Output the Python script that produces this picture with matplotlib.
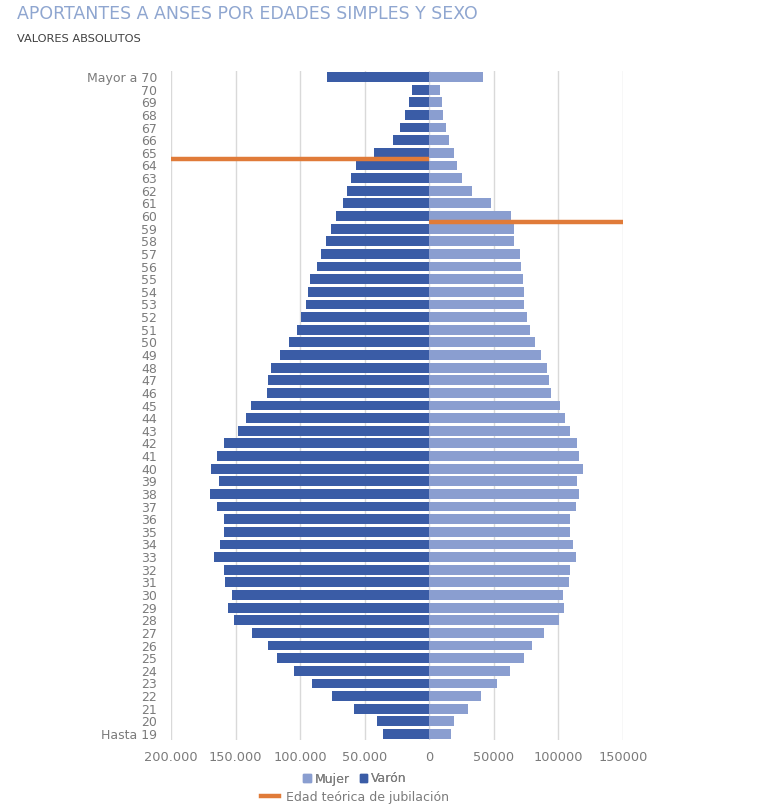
import matplotlib
matplotlib.use("Agg")
import matplotlib.pyplot as plt
from matplotlib.lines import Line2D
from matplotlib.patches import Patch
import numpy as np

categories = ["Hasta 19"] + [str(a) for a in range(20, 71)] + ["Mayor a 70"]

varon = [36000, 40500, 58000, 75000, 91000, 105000, 117600, 124800, 137500, 151400,
         155500, 153000, 158000, 159000, 166400, 162000, 158700, 158700, 164600, 169500,
         163000, 169000, 164000, 159000, 148000, 142000, 138000, 126000, 125000, 122500,
         115800, 108500, 102600, 99000, 95300, 94000, 92200, 87300, 84000, 80000,
         76200, 72300, 67000, 64000, 61000, 56800, 42900, 28400, 23000, 18800,
         15700, 13400, 79300]

mujer = [16500, 19400, 29700, 40000, 52200, 62800, 73100, 79900, 89200, 100500,
         104400, 103400, 108000, 109300, 113400, 111600, 109300, 109300, 113400, 116300,
         114000, 118900, 115800, 114000, 109300, 105400, 101300, 94000, 92800, 91000,
         86800, 81900, 77800, 76000, 73100, 73600, 72900, 71300, 70500, 65800,
         65800, 63200, 47700, 32700, 25500, 21400, 18800, 15200, 12600, 11000,
         9800, 8000, 41900]

# retirement-age markers: (position between ages, x extent)
jub_varon_age = 64.5
jub_mujer_age = 59.5
jub_varon_x = -200000
jub_mujer_x = 150000

xticks = [-200000, -150000, -100000, -50000, 0, 50000, 100000, 150000]
xticklabels = ["200.000", "150.000", "100.000", "50.000", "0", "50000", "100000", "150000"]

C_VARON = "#3a5ca6"
C_MUJER = "#8a9ed0"
C_ORANGE = "#e07b39"
C_TICK = "#7b7b7b"

fig = plt.figure(figsize=(7.68, 8.08), dpi=100)
ax = fig.add_axes([171/768, (808-740.3)/808, (623-171)/768, (740.3-70.7)/808])

y = np.arange(len(categories))
ax.barh(y, mujer, height=0.78, color=C_MUJER, zorder=3, label="Mujer")
ax.barh(y, [-v for v in varon], height=0.78, color=C_VARON, zorder=3, label="Varón")

def age_pos(a):
    return a - 19

ax.plot([jub_varon_x, 0], [age_pos(jub_varon_age)] * 2, color=C_ORANGE, lw=3.2,
        solid_capstyle="butt", zorder=4)
ax.plot([0, jub_mujer_x], [age_pos(jub_mujer_age)] * 2, color=C_ORANGE, lw=3.2,
        solid_capstyle="butt", zorder=4)

ax.set_xlim(-200000, 150000)
ax.set_ylim(-0.5, len(categories) - 0.5)
ax.set_xticks(xticks)
ax.set_xticklabels(xticklabels)
ax.set_yticks(y)
ax.set_yticklabels(categories)
ax.tick_params(axis="y", length=0, colors=C_TICK, labelsize=9, pad=10)
ax.tick_params(axis="x", length=0, colors=C_TICK, labelsize=9.3, pad=8)
ax.xaxis.grid(True, color="#d9d9d9", lw=1, zorder=0)
for s in ax.spines.values():
    s.set_visible(False)

fig.text(17/768, 1 - 14/808, "APORTANTES A ANSES POR EDADES SIMPLES Y SEXO",
         color="#8fa6d0", fontsize=12.5, va="center", ha="left")
fig.text(17/768, 1 - 39/808, "VALORES ABSOLUTOS", color="#404040", fontsize=8.2,
         va="center", ha="left")

h1 = [Patch(color=C_MUJER), Patch(color=C_VARON)]
leg1 = fig.legend(h1, ["Mujer", "Varón"], loc="center", bbox_to_anchor=(355/768, 1 - 779/808),
                  ncol=2, frameon=False, fontsize=9, handlelength=0.6, handleheight=0.6,
                  handletextpad=0.3, columnspacing=0.8, labelcolor=C_TICK)
h2 = [Line2D([0], [0], color=C_ORANGE, lw=3.2)]
leg2 = fig.legend(h2, ["Edad teórica de jubilación"], loc="center",
                  bbox_to_anchor=(355/768, 1 - 797/808), frameon=False, fontsize=9,
                  handlelength=1.4, handletextpad=0.6, labelcolor=C_TICK)
fig.add_artist(leg1)

fig.savefig("out.png", dpi=100)
